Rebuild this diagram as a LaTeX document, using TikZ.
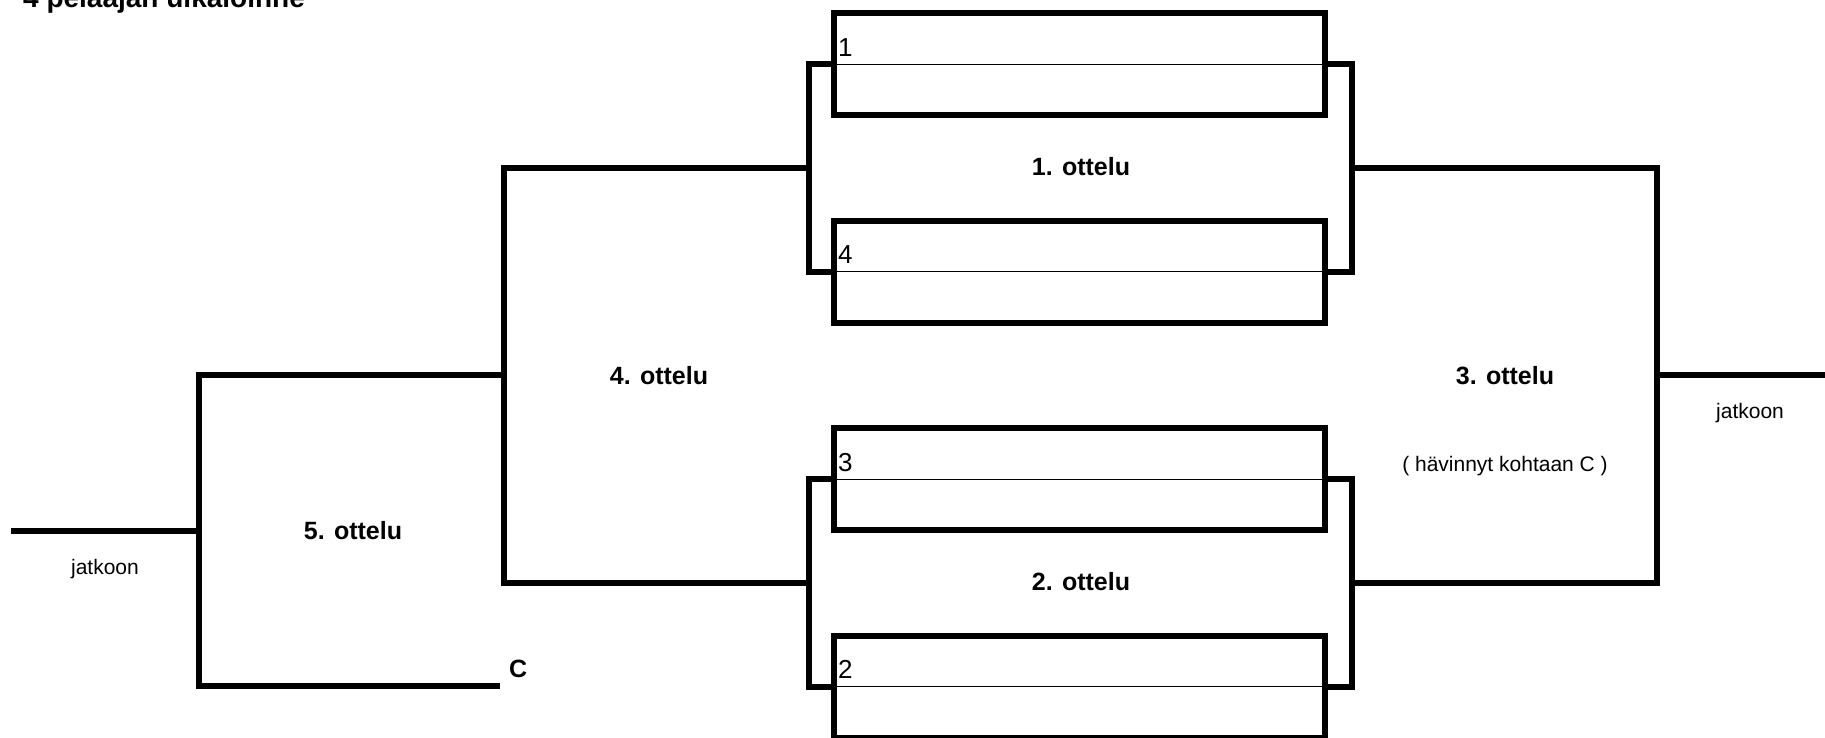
\documentclass[tikz,border=0pt]{standalone}
\usepackage{fontspec}
\setmainfont{Liberation Sans}
\tikzset{
  heavy/.style={line width=6pt, line join=miter},
  slot/.style={draw, line width=6pt, minimum width=491pt, minimum height=102pt, inner sep=0pt, outer sep=0pt},
  divider/.style={line width=1pt},
  seed/.style={font=\fontsize{26}{30}\selectfont, inner sep=0pt, anchor=base west},
  match/.style={font=\bfseries\fontsize{25}{30}\selectfont, inner sep=0pt, anchor=base},
  note/.style={font=\fontsize{21}{25}\selectfont, inner sep=0pt, anchor=base},
}
\begin{document}
\begin{tikzpicture}[x=1pt, y=-1pt]
\useasboundingbox (0,0) rectangle (1825,737);
% title (clipped at the top edge)
\node[anchor=base west, inner sep=0pt, font=\bfseries\fontsize{28}{32}\selectfont] (title) at (23,7) {4 pelaajan ulkaloinne};
% player slots
\node[slot] (b1) at (1079.5,64) {};
\node[slot] (b4) at (1079.5,271.5) {};
\node[slot] (b3) at (1079.5,479) {};
\node[slot] (b2) at (1079.5,686.5) {};
\foreach \b in {b1,b4,b3,b2} \draw[divider] (\b.west) -- (\b.east);
\node[seed] (s1) at ([xshift=4pt,yshift=8pt]b1.west) {1};
\node[seed] (s4) at ([xshift=4pt,yshift=8pt]b4.west) {4};
\node[seed] (s3) at ([xshift=4pt,yshift=8pt]b3.west) {3};
\node[seed] (s2) at ([xshift=4pt,yshift=8pt]b2.west) {2};
% junctions
\coordinate (l1) at (809,167.75);
\coordinate (r1) at (1351.5,167.75);
\coordinate (l2) at (809,582.75);
\coordinate (r2) at (1351.5,582.75);
\coordinate (m4) at (504,375.25);
\coordinate (m3) at (1656.5,375.25);
\coordinate (m5) at (199,530.5);
\coordinate (out3) at (1825,375.25);
\coordinate (out5) at (11,530.5);
\coordinate (cend) at (500,686);
% brackets
\draw[heavy] (b1.west) -| (l1) |- (b4.west);
\draw[heavy] (b1.east) -| (r1) |- (b4.east);
\draw[heavy] (b3.west) -| (l2) |- (b2.west);
\draw[heavy] (b3.east) -| (r2) |- (b2.east);
\draw[heavy] (l1) -| (m4) |- (l2);
\draw[heavy] (r1) -| (m3) |- (r2);
\draw[heavy] (m3) -- (out3);
\draw[heavy] (m4) -| (m5) |- (cend);
\draw[heavy] (m5) -- (out5);
% labels
\node[match] (t1) at (1081,175.5) {1. ottelu};
\node[match] (t2) at (1081,590) {2. ottelu};
\node[match] (t3) at (1505,384.5) {3. ottelu};
\node[match] (t4) at (659,384) {4. ottelu};
\node[match] (t5) at (353,539) {5. ottelu};
\node[note] (hav) at (1505,471) {( hävinnyt kohtaan C )};
\node[note] (j3) at (1750,418) {jatkoon};
\node[note] (j5) at (105,574) {jatkoon};
\node[match, anchor=base west] (c) at (509,677) {C};
\end{tikzpicture}
\end{document}
